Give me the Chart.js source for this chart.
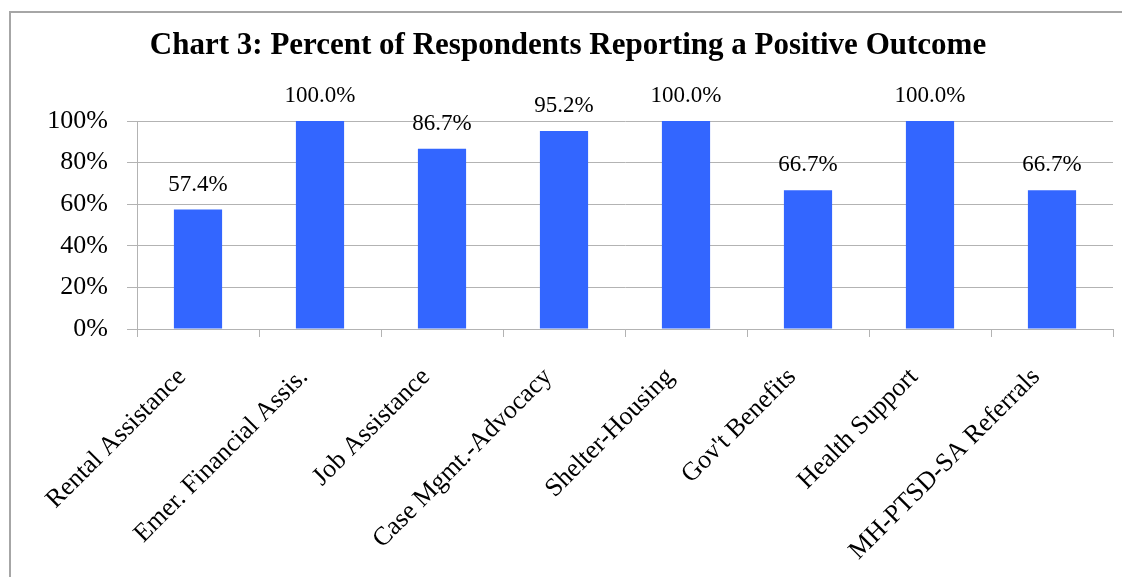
<!DOCTYPE html>
<html>
<head>
<meta charset="utf-8">
<title>Chart 3</title>
<script src="https://cdn.jsdelivr.net/npm/chart.js@4.4.0/dist/chart.umd.min.js"></script>
<style>
  html, body { margin: 0; padding: 0; background: #fff; }
  #wrap { position: relative; width: 1122px; height: 577px; overflow: hidden; }
  #frame {
    position: absolute; left: 9px; top: 11px; width: 1200px; height: 700px;
    border-left: 2px solid #a6a6a6; border-top: 2px solid #a6a6a6;
    pointer-events: none;
  }
  canvas { position: absolute; left: 0; top: 0; }
</style>
</head>
<body>
<div id="wrap">
  <canvas id="grafico" width="1122" height="577"></canvas>
  <div id="frame"></div>
</div>
<script>
// categorias e valores (%)
const servicos = ['Rental Assistance', 'Emer. Financial Assis.', 'Job Assistance', 'Case Mgmt.-Advocacy',
                  'Shelter-Housing', "Gov't Benefits", 'Health Support', 'MH-PTSD-SA Referrals'];
const percentuais = [57.4, 100.0, 86.7, 95.2, 100.0, 66.7, 100.0, 66.7];
const ticksY = [0, 20, 40, 60, 80, 100];

const serif = '"Liberation Serif", "Times New Roman", serif';
const cinza = '#b3b3b3';

// rótulos de valor acima de cada barra
const rotulosBarras = {
    id: 'rotulosBarras',
    afterDatasetsDraw(chart) {
        const ctx = chart.ctx;
        const meta = chart.getDatasetMeta(0);
        ctx.save();
        ctx.font = '23px ' + serif;
        ctx.fillStyle = '#000';
        ctx.textAlign = 'center';
        ctx.textBaseline = 'alphabetic';
        meta.data.forEach((bar, i) => {
            ctx.fillText(percentuais[i].toFixed(1) + '%', bar.x, bar.y - 19);
        });
        ctx.restore();
    }
};

const config = {
    type: 'bar',
    data: {
        labels: servicos,
        datasets: [{
            data: percentuais,
            backgroundColor: '#3366ff',
            borderWidth: 0,
            barPercentage: 0.395,
            categoryPercentage: 1
        }]
    },
    options: {
        responsive: false,
        animation: false,
        layout: { padding: { left: 23, right: 9, top: 0, bottom: 0 } },
        plugins: {
            legend: { display: false },
            tooltip: { enabled: false },
            title: {
                display: true,
                text: 'Chart 3: Percent of Respondents Reporting a Positive Outcome',
                color: '#000',
                font: { family: serif, size: 31, weight: 'bold', lineHeight: 1.2 },
                padding: { top: 27.4, bottom: 56.4 }
            }
        },
        scales: {
            x: {
                offset: true,
                grid: { display: true, offset: true, drawOnChartArea: false, drawTicks: true, tickLength: 8, color: cinza },
                border: { display: true, color: cinza, width: 1 },
                ticks: {
                    autoSkip: false, maxRotation: 45, minRotation: 45, padding: 25, labelOffset: -16,
                    color: '#000', font: { family: serif, size: 26 }
                },
                afterFit(scale) { scale.height = 248; }
            },
            y: {
                min: 0, max: 100,
                afterBuildTicks(scale) { scale.ticks = ticksY.map(v => ({ value: v })); },
                grid: { color: cinza, tickLength: 10, drawTicks: true },
                border: { display: true, color: cinza, width: 1 },
                ticks: {
                    padding: 19, color: '#000', font: { family: serif, size: 26 },
                    callback: v => v + '%'
                },
                afterFit(scale) { scale.width = 114; }
            }
        }
    },
    plugins: [rotulosBarras]
};

window.onload = function() {
    const ctx = document.getElementById('grafico').getContext('2d');
    new Chart(ctx, config);
};
</script>
</body>
</html>
